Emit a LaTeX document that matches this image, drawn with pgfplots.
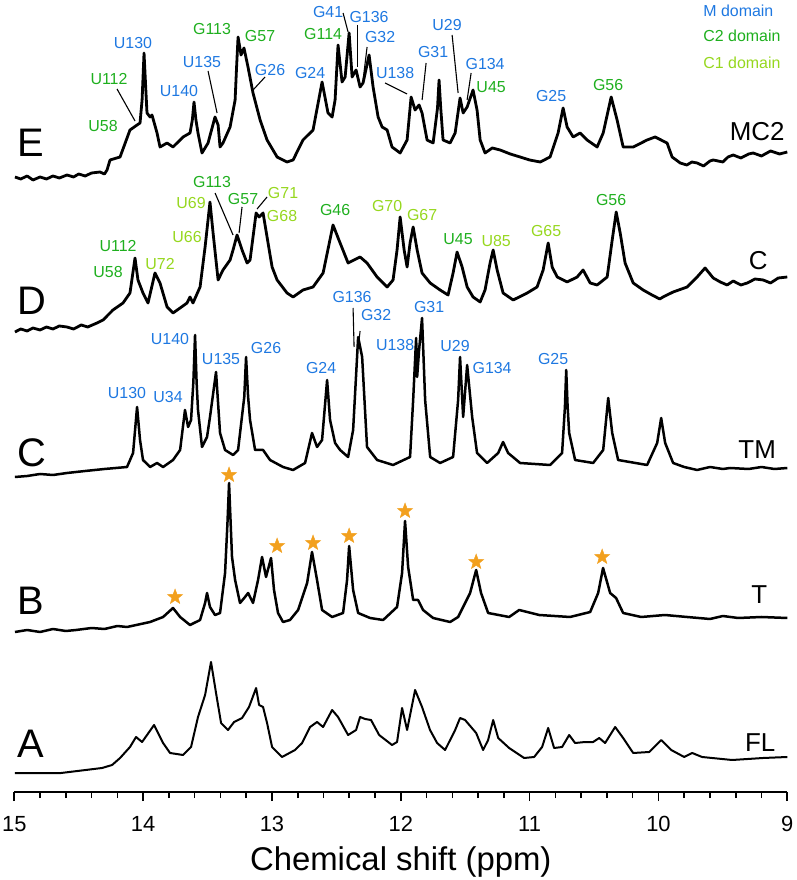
\documentclass[border=0pt]{standalone}
\usepackage{fontspec}
\setmainfont{Liberation Sans}
\usepackage{pgfplots}
\pgfplotsset{compat=1.18}
\usetikzlibrary{plotmarks}
\definecolor{mblue}{RGB}{30,120,225}
\definecolor{cgreen}{RGB}{30,175,30}
\definecolor{cyg}{RGB}{150,215,30}
\definecolor{staro}{RGB}{242,160,30}
\newcommand\lbl{\fontsize{16}{18}\selectfont}
\newcommand\biglet{\fontsize{40}{44}\selectfont}
\newcommand\rl{\fontsize{26}{30}\selectfont}
% picture pixel -> axis coordinate
\newcommand\PX[1]{15.111-0.007764*#1}
\newcommand\PY[1]{#1-88}
\pgfdeclareplotmark{fstar}{%
  \pgfpathmoveto{\pgfpointpolar{90}{\pgfplotmarksize}}%
  \pgfpathlineto{\pgfpointpolar{126}{0.42\pgfplotmarksize}}%
  \pgfpathlineto{\pgfpointpolar{162}{\pgfplotmarksize}}%
  \pgfpathlineto{\pgfpointpolar{198}{0.42\pgfplotmarksize}}%
  \pgfpathlineto{\pgfpointpolar{234}{\pgfplotmarksize}}%
  \pgfpathlineto{\pgfpointpolar{270}{0.42\pgfplotmarksize}}%
  \pgfpathlineto{\pgfpointpolar{306}{\pgfplotmarksize}}%
  \pgfpathlineto{\pgfpointpolar{342}{0.42\pgfplotmarksize}}%
  \pgfpathlineto{\pgfpointpolar{18}{\pgfplotmarksize}}%
  \pgfpathlineto{\pgfpointpolar{54}{0.42\pgfplotmarksize}}%
  \pgfpathclose
  \pgfusepathqfillstroke}
\begin{document}
\begin{tikzpicture}[
  mb/.style={font=\lbl,text=mblue,inner sep=0pt},
  cg/.style={font=\lbl,text=cgreen,inner sep=0pt},
  cy/.style={font=\lbl,text=cyg,inner sep=0pt},
  lt/.style={inner sep=0pt},
  ld/.style={line width=1.1bp,black}]
\begin{axis}[
  scale only axis, width=773bp, height=792bp,
  xmin=9, xmax=15, x dir=reverse, ymin=0, ymax=792,
  axis x line*=bottom, axis y line=none,
  xtick={9,10,...,15}, minor x tick num=4,
  tick align=outside, major tick length=9bp, minor tick length=6bp,
  tick style={black, line width=1.6bp},
  axis line style={line width=1.8bp},
  xticklabel style={font=\fontsize{22}{24}\selectfont, yshift=-12bp},
  /pgf/number format/assume math mode=true,
  xlabel={Chemical shift (ppm)},
  xlabel style={font=\fontsize{33}{37}\selectfont, yshift=-8bp},
  clip=false,
]
% E : MC2
\addplot[black, line width=2.8bp, line join=round] table[x=ppm, y expr=\thisrow{h}+614] {
ppm h
14.995 1
14.95 -1
14.9 2
14.855 -2
14.8 1
14.75 -1
14.7 2
14.65 0
14.591 3
14.54 1
14.5 4
14.45 2
14.4 5
14.335 6
14.3 4
14.28 8
14.257 18
14.179 21
14.102 48
14.047 53
14.024 55
14.008 78
13.993 125
13.977 83
13.97 65
13.946 61
13.931 63
13.892 45
13.869 31
13.814 35
13.768 31
13.69 41
13.636 45
13.618 58
13.605 76
13.59 58
13.574 45
13.543 25
13.496 35
13.442 61
13.418 53
13.403 31
13.38 35
13.325 51
13.286 78
13.275 110
13.263 141
13.24 123
13.217 130
13.186 111
13.147 85
13.092 58
13.038 38
12.96 21
12.883 16
12.836 18
12.759 38
12.681 48
12.611 96
12.565 65
12.533 61
12.51 78
12.487 133
12.456 96
12.432 101
12.401 145
12.378 101
12.347 108
12.316 91
12.293 95
12.246 123
12.215 91
12.176 61
12.145 51
12.106 48
12.068 31
12.005 25
11.951 38
11.92 81
11.889 68
11.858 73
11.835 65
11.796 38
11.749 35
11.715 70
11.703 98
11.69 70
11.672 38
11.617 35
11.578 45
11.54 80
11.516 65
11.485 71
11.439 88
11.408 68
11.384 38
11.346 25
11.29 30
11.229 28
11.15 24
11.074 21
11.0 18
10.918 16
10.841 21
10.779 45
10.74 70
10.709 51
10.662 41
10.608 45
10.554 38
10.476 31
10.429 45
10.367 81
10.321 58
10.274 31
10.196 31
10.088 38
10.026 41
9.933 35
9.894 21
9.831 15
9.78 13
9.74 16
9.7 15
9.65 12
9.6 17
9.575 18
9.5 16
9.46 21
9.42 23
9.36 20
9.3 24
9.265 25
9.2 22
9.13 27
9.06 24
9.0 26
};
% D : C
\addplot[black, line width=2.8bp, line join=round] table[x=ppm, y expr=\thisrow{h}+462] {
ppm h
14.995 -2
14.95 1
14.9 -1
14.855 2
14.8 0
14.75 3
14.7 1
14.65 4
14.591 3
14.54 1
14.48 5
14.43 3
14.358 7
14.311 10
14.234 20
14.156 27
14.102 37
14.063 72
14.04 50
14.001 37
13.962 27
13.908 57
13.869 47
13.814 23
13.768 17
13.713 22
13.659 27
13.636 33
13.613 27
13.558 43
13.519 83
13.481 128
13.457 97
13.418 50
13.38 60
13.325 70
13.302 80
13.271 95
13.232 80
13.193 67
13.17 70
13.147 93
13.123 117
13.1 113
13.069 117
13.038 93
12.999 63
12.96 50
12.883 37
12.836 33
12.759 40
12.681 43
12.603 57
12.526 105
12.471 87
12.409 67
12.316 73
12.262 67
12.184 53
12.106 43
12.06 50
12.029 80
12.005 113
11.974 80
11.951 63
11.928 87
11.904 103
11.873 80
11.835 57
11.772 47
11.695 40
11.633 35
11.594 57
11.563 78
11.524 63
11.485 43
11.439 33
11.384 28
11.346 40
11.307 67
11.283 80
11.252 60
11.206 37
11.128 30
11.019 37
10.942 43
10.895 60
10.856 87
10.825 63
10.786 53
10.709 48
10.631 53
10.585 60
10.53 47
10.476 45
10.398 53
10.359 90
10.328 118
10.297 97
10.259 67
10.196 47
10.119 40
10.05 35
9.99 31
9.964 33
9.886 38
9.777 43
9.7 53
9.638 62
9.575 52
9.52 48
9.467 45
9.42 49
9.36 45
9.311 47
9.25 51
9.187 50
9.13 47
9.07 52
9.0 53
};
% C : TM
\addplot[black, line width=2.5bp, line join=round] table[x=ppm, y expr=\thisrow{h}+315] {
ppm h
14.995 0
14.9 1
14.8 3
14.7 2
14.591 4
14.45 6
14.3 8
14.125 10
14.078 24
14.047 70
14.024 37
14.001 17
13.946 10
13.892 14
13.845 10
13.768 17
13.713 27
13.675 67
13.651 50
13.628 57
13.61 95
13.597 142
13.585 95
13.574 67
13.543 30
13.504 40
13.481 60
13.434 105
13.403 44
13.364 27
13.302 22
13.263 27
13.215 80
13.201 120
13.185 80
13.17 57
13.131 27
13.069 27
13.015 17
12.914 10
12.836 7
12.743 14
12.689 44
12.65 30
12.611 37
12.572 97
12.549 57
12.51 34
12.471 27
12.409 20
12.37 47
12.331 140
12.3 120
12.262 30
12.184 17
12.06 12
11.928 20
11.904 77
11.881 139
11.873 100
11.858 127
11.835 159
11.811 77
11.772 20
11.695 14
11.594 20
11.555 77
11.54 120
11.516 60
11.485 112
11.446 60
11.408 24
11.33 14
11.244 24
11.206 35
11.167 24
11.074 14
10.841 12
10.748 24
10.726 70
10.716 107
10.705 70
10.693 44
10.647 17
10.507 14
10.429 27
10.39 79
10.359 44
10.313 17
10.088 12
10.01 34
9.979 59
9.948 34
9.886 14
9.8 10
9.7 7
9.6 10
9.5 8
9.444 9
9.3 8
9.2 10
9.1 8
9.0 9
};
% B : T
\addplot[black, line width=2.5bp, line join=round] table[x=ppm, y expr=\thisrow{h}+160] {
ppm h
14.995 0
14.9 2
14.8 0
14.7 3
14.6 1
14.521 2
14.4 4
14.3 3
14.2 6
14.125 5
13.946 10
13.845 15
13.768 24
13.713 15
13.636 7
13.558 12
13.519 29
13.504 39
13.481 25
13.442 17
13.403 19
13.364 59
13.345 110
13.333 149
13.321 110
13.31 75
13.286 52
13.248 29
13.209 35
13.185 39
13.147 29
13.108 52
13.077 75
13.046 55
13.007 74
12.984 42
12.953 19
12.914 10
12.86 12
12.797 22
12.727 49
12.689 80
12.65 52
12.611 22
12.533 15
12.448 19
12.417 52
12.401 86
12.37 42
12.331 19
12.238 14
12.137 12
12.029 25
11.99 59
11.967 111
11.943 65
11.904 32
11.866 32
11.827 22
11.749 14
11.617 10
11.555 15
11.462 39
11.415 62
11.377 39
11.322 19
11.159 15
11.081 22
10.926 17
10.686 15
10.53 20
10.468 39
10.43 64
10.375 39
10.329 34
10.274 19
10.134 15
9.95 17
9.777 15
9.6 13
9.5 16
9.381 14
9.2 15
9.0 14
};
\addplot[only marks, mark=fstar, mark size=8bp,
  mark options={fill=staro, draw=staro}] coordinates {
(13.752,195) (13.333,317) (12.96,246) (12.681,249) (12.401,256)
(11.967,281) (11.415,230) (10.437,235)};
% A : FL
\addplot[black, line width=2bp, line join=round] table[x=ppm, y expr=\thisrow{h}+19] {
ppm h
14.995 0
14.637 0
14.319 5
14.241 8
14.179 15
14.102 26
14.055 36
14.008 31
13.915 48
13.845 30
13.791 20
13.69 18
13.628 26
13.574 56
13.519 78
13.473 111
13.434 80
13.395 50
13.341 43
13.294 51
13.232 55
13.178 66
13.123 85
13.1 68
13.069 66
13.038 50
12.999 26
12.922 16
12.821 23
12.766 30
12.704 46
12.65 51
12.603 46
12.533 63
12.487 56
12.409 38
12.347 43
12.316 56
12.277 54
12.231 53
12.168 38
12.068 28
12.029 31
11.99 65
11.951 43
11.889 83
11.835 66
11.773 43
11.718 30
11.656 23
11.578 43
11.54 55
11.501 53
11.415 40
11.361 23
11.322 33
11.283 53
11.244 35
11.159 25
11.043 15
10.965 16
10.903 26
10.856 45
10.81 25
10.748 26
10.693 38
10.647 30
10.569 31
10.507 31
10.46 35
10.414 30
10.336 46
10.274 35
10.196 20
10.072 21
9.979 33
9.901 23
9.8 16
9.738 20
9.661 16
9.428 13
9.188 15
9.0 16
};
% picture frame (pixels of the 796x880 picture)
\coordinate (bbsw) at ({\PX{0}},{\PY{0}});
\coordinate (bbne) at ({\PX{796}},{\PY{880}});
% panel letters
\node[font=\biglet, lt] at ({\PX{31}},{\PY{737}}) {E};
\node[font=\biglet, lt] at ({\PX{32}},{\PY{579}}) {D};
\node[font=\biglet, lt] at ({\PX{32}},{\PY{427}}) {C};
\node[font=\biglet, lt] at ({\PX{31}},{\PY{279}}) {B};
\node[font=\biglet, lt] at ({\PX{31}},{\PY{136}}) {A};
% right labels
\node[font=\rl, lt] at ({\PX{757}},{\PY{748}}) {MC2};
\node[font=\rl, lt] at ({\PX{758}},{\PY{619}}) {C};
\node[font=\rl, lt] at ({\PX{757}},{\PY{430}}) {TM};
\node[font=\rl, lt] at ({\PX{759}},{\PY{285}}) {T};
\node[font=\rl, lt] at ({\PX{760}},{\PY{137}}) {FL};
% legend
\node[mb, anchor=west] at ({\PX{703}},{\PY{869}}) {M domain};
\node[cg, anchor=west] at ({\PX{703}},{\PY{844}}) {C2 domain};
\node[cy, anchor=west] at ({\PX{703}},{\PY{817}}) {C1 domain};
% E labels
\node[mb] at ({\PX{133}},{\PY{837}}) {U130};
\node[cg] at ({\PX{109}},{\PY{801}}) {U112};
\node[cg] at ({\PX{103}},{\PY{754}}) {U58};
\node[mb] at ({\PX{179}},{\PY{789}}) {U140};
\node[mb] at ({\PX{202}},{\PY{818}}) {U135};
\node[cg] at ({\PX{212}},{\PY{851}}) {G113};
\node[cg] at ({\PX{260}},{\PY{844}}) {G57};
\node[mb] at ({\PX{270}},{\PY{810}}) {G26};
\node[mb] at ({\PX{310}},{\PY{807}}) {G24};
\node[cg] at ({\PX{323}},{\PY{846}}) {G114};
\node[mb] at ({\PX{328}},{\PY{868}}) {G41};
\node[mb] at ({\PX{369}},{\PY{863}}) {G136};
\node[mb] at ({\PX{380}},{\PY{843}}) {G32};
\node[mb] at ({\PX{395}},{\PY{807}}) {U138};
\node[mb] at ({\PX{433}},{\PY{828}}) {G31};
\node[mb] at ({\PX{447}},{\PY{855}}) {U29};
\node[mb] at ({\PX{485}},{\PY{816}}) {G134};
\node[cg] at ({\PX{491}},{\PY{793}}) {U45};
\node[mb] at ({\PX{551}},{\PY{784}}) {G25};
\node[cg] at ({\PX{608}},{\PY{795}}) {G56};
\draw[ld] ({\PX{117}},{\PY{791}}) -- ({\PX{135}},{\PY{759}});
\draw[ld] ({\PX{208}},{\PY{809}}) -- ({\PX{217}},{\PY{767}});
\draw[ld] ({\PX{265}},{\PY{803}}) -- ({\PX{253}},{\PY{790}});
\draw[ld] ({\PX{343}},{\PY{867}}) -- ({\PX{348}},{\PY{848}});
\draw[ld] ({\PX{357}},{\PY{855}}) -- ({\PX{357}},{\PY{813}});
\draw[ld] ({\PX{367}},{\PY{833}}) -- ({\PX{363}},{\PY{800}});
\draw[ld] ({\PX{385}},{\PY{797}}) -- ({\PX{407}},{\PY{786}});
\draw[ld] ({\PX{426}},{\PY{817}}) -- ({\PX{422}},{\PY{780}});
\draw[ld] ({\PX{452}},{\PY{845}}) -- ({\PX{458}},{\PY{787}});
\draw[ld] ({\PX{471}},{\PY{807}}) -- ({\PX{467}},{\PY{780}});
% D labels
\node[cg] at ({\PX{118}},{\PY{634}}) {U112};
\node[cg] at ({\PX{108}},{\PY{608}}) {U58};
\node[cy] at ({\PX{160}},{\PY{616}}) {U72};
\node[cy] at ({\PX{191}},{\PY{677}}) {U69};
\node[cy] at ({\PX{187}},{\PY{643}}) {U66};
\node[cg] at ({\PX{212}},{\PY{698}}) {G113};
\node[cg] at ({\PX{243}},{\PY{681}}) {G57};
\node[cy] at ({\PX{283}},{\PY{687}}) {G71};
\node[cy] at ({\PX{282}},{\PY{664}}) {G68};
\node[cg] at ({\PX{335}},{\PY{670}}) {G46};
\node[cy] at ({\PX{387}},{\PY{674}}) {G70};
\node[cy] at ({\PX{422}},{\PY{665}}) {G67};
\node[cg] at ({\PX{458}},{\PY{641}}) {U45};
\node[cy] at ({\PX{496}},{\PY{639}}) {U85};
\node[cy] at ({\PX{546}},{\PY{649}}) {G65};
\node[cg] at ({\PX{611}},{\PY{680}}) {G56};
\draw[ld] ({\PX{215}},{\PY{687}}) -- ({\PX{233}},{\PY{645}});
\draw[ld] ({\PX{242}},{\PY{673}}) -- ({\PX{239}},{\PY{647}});
\draw[ld] ({\PX{267}},{\PY{683}}) -- ({\PX{257}},{\PY{671}});
% C labels
\node[mb] at ({\PX{127}},{\PY{487}}) {U130};
\node[mb] at ({\PX{168}},{\PY{483}}) {U34};
\node[mb] at ({\PX{170}},{\PY{541}}) {U140};
\node[mb] at ({\PX{221}},{\PY{521}}) {U135};
\node[mb] at ({\PX{266}},{\PY{532}}) {G26};
\node[mb] at ({\PX{321}},{\PY{512}}) {G24};
\node[mb] at ({\PX{352}},{\PY{583}}) {G136};
\node[mb] at ({\PX{376}},{\PY{565}}) {G32};
\node[mb] at ({\PX{395}},{\PY{535}}) {U138};
\node[mb] at ({\PX{429}},{\PY{573}}) {G31};
\node[mb] at ({\PX{455}},{\PY{534}}) {U29};
\node[mb] at ({\PX{492}},{\PY{512}}) {G134};
\node[mb] at ({\PX{553}},{\PY{521}}) {G25};
\draw[ld] ({\PX{353}},{\PY{572}}) -- ({\PX{354}},{\PY{533}});
\draw[ld] ({\PX{360}},{\PY{549}}) -- ({\PX{359}},{\PY{540}});
\end{axis}
\pgfresetboundingbox
\path[use as bounding box] (bbsw) rectangle (bbne);
\end{tikzpicture}
\end{document}
